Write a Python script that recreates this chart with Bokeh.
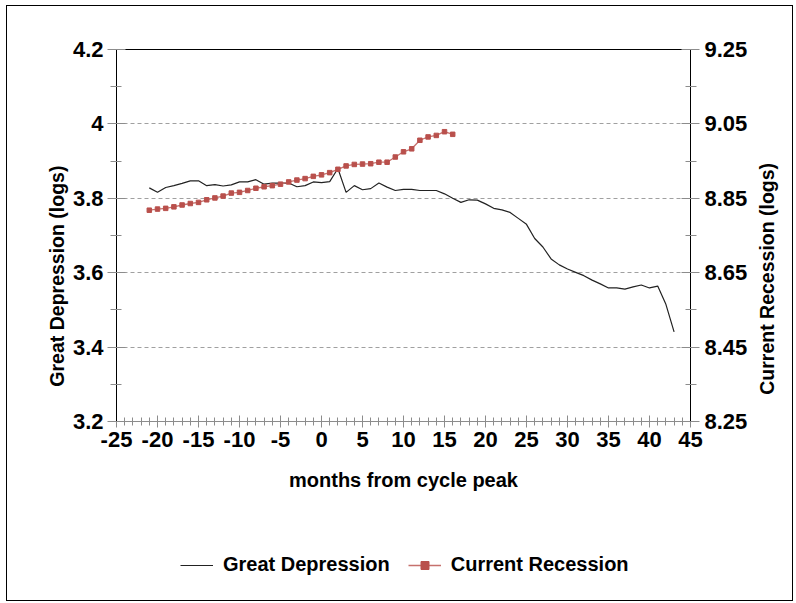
from bokeh.plotting import figure
from bokeh.layouts import column, row
from bokeh.models import (Range1d, LinearAxis, FixedTicker, Legend, LegendItem)
from bokeh.embed import file_html
from bokeh.resources import INLINE

# ---- data ----
gd_months = list(range(-21, 44))
gd_values = [3.828, 3.816, 3.829, 3.834, 3.840, 3.847, 3.847, 3.834, 3.837, 3.833,
             3.836, 3.844, 3.844, 3.850, 3.838, 3.841, 3.841, 3.841, 3.831, 3.834,
             3.844, 3.842, 3.845, 3.880, 3.816, 3.834, 3.823, 3.826, 3.841, 3.830,
             3.821, 3.824, 3.824, 3.821, 3.821, 3.821, 3.812, 3.800, 3.789, 3.796,
             3.795, 3.785, 3.773, 3.769, 3.762, 3.746, 3.730, 3.692, 3.669, 3.637,
             3.621, 3.610, 3.601, 3.592, 3.580, 3.570, 3.559, 3.559, 3.556, 3.562,
             3.567, 3.559, 3.564, 3.515, 3.441]
cr_months = list(range(-21, 17))
cr_values = [8.818, 8.821, 8.823, 8.827, 8.832, 8.836, 8.839, 8.846, 8.851, 8.856,
             8.864, 8.866, 8.871, 8.877, 8.881, 8.884, 8.888, 8.894, 8.899, 8.903,
             8.909, 8.913, 8.919, 8.928, 8.937, 8.941, 8.942, 8.943, 8.947, 8.947,
             8.961, 8.975, 8.983, 9.006, 9.015, 9.019, 9.029, 9.022]

x_ticks = list(range(-25, 46, 5))
x_minor = list(range(-25, 46, 1))
x_labels = ["-25", "-20", "-15", "-10", "-5", "0", "5", "10", "15", "20", "25", "30", "35", "40", "45"]
left_ticks = [3.2, 3.4, 3.6, 3.8, 4.0, 4.2]
left_labels = ["3.2", "3.4", "3.6", "3.8", "4", "4.2"]
left_minor = [3.3, 3.5, 3.7, 3.9, 4.1]
right_ticks = [8.25, 8.45, 8.65, 8.85, 9.05, 9.25]
right_labels = ["8.25", "8.45", "8.65", "8.85", "9.05", "9.25"]
right_minor = [8.35, 8.55, 8.75, 8.95, 9.15]
grid_ticks = [3.4, 3.6, 3.8, 4.0]

NB = "\u00a0"
left_title = "Great Depression (logs)" + NB * 15
right_title = "Current Recession (logs)" + NB * 16
x_title = "months from cycle peak"

FONT = "Liberation Sans"
RED = "#B9504C"
RED_LINE = "#C6716D"
GD_COLOR = "#222222"
TICK_GRAY = "#8c8c8c"

p = figure(width=745, height=510, x_range=Range1d(-25, 45), y_range=Range1d(3.2, 4.2),
           output_backend="svg", toolbar_location=None,
           min_border_left=109, min_border_right=62, min_border_top=43, min_border_bottom=95,
           x_axis_label=x_title, y_axis_label=left_title)
p.outline_line_color = None
p.background_fill_color = "white"
p.border_fill_color = "white"

p.extra_y_ranges = {"right": Range1d(8.25, 9.25)}

def style_axis(ax, label_size):
    ax.major_label_text_font = FONT
    ax.major_label_text_font_style = "bold"
    ax.major_label_text_font_size = "22px"
    ax.major_label_text_color = "black"
    ax.axis_label_text_font = FONT
    ax.axis_label_text_font_style = "bold"
    ax.axis_label_text_font_size = label_size
    ax.axis_label_text_color = "black"
    ax.major_tick_line_color = TICK_GRAY
    ax.minor_tick_line_color = TICK_GRAY

xa = p.xaxis[0]
xa.ticker = FixedTicker(ticks=x_ticks, minor_ticks=x_minor)
xa.major_label_overrides = dict(zip(x_ticks, x_labels))
style_axis(xa, "20px")
xa.axis_line_color = TICK_GRAY
xa.major_tick_in = 6
xa.major_tick_out = 6
xa.minor_tick_in = 4
xa.minor_tick_out = 4
xa.major_label_standoff = 4
xa.axis_label_standoff = 19

ya = p.yaxis[0]
ya.ticker = FixedTicker(ticks=left_ticks, minor_ticks=left_minor)
ya.major_label_overrides = dict(zip(left_ticks, left_labels))
style_axis(ya, "19.5px")
ya.axis_line_color = "black"
ya.major_tick_in = 9
ya.major_tick_out = 9
ya.minor_tick_in = 5
ya.minor_tick_out = 6
ya.major_label_standoff = 4
ya.axis_label_standoff = 2

ra = LinearAxis(y_range_name="right",
                ticker=FixedTicker(ticks=right_ticks, minor_ticks=right_minor))
ra.major_label_overrides = dict(zip(right_ticks, right_labels))
style_axis(ra, "19.5px")
ra.axis_line_color = "black"
ra.major_tick_in = 9
ra.major_tick_out = 9
ra.minor_tick_in = 5
ra.minor_tick_out = 6
ra.major_label_standoff = 5
p.add_layout(ra, "right")

ta = LinearAxis(ticker=FixedTicker(ticks=[]), major_label_text_font_size="0px")
ta.axis_line_color = "black"
ta.major_tick_line_color = None
ta.minor_tick_line_color = None
p.add_layout(ta, "above")

p.xgrid.visible = False
p.ygrid.ticker = FixedTicker(ticks=grid_ticks)
p.ygrid.grid_line_color = "#a0a0a0"
p.ygrid.grid_line_dash = "4 3"

p.line(gd_months, gd_values, line_color=GD_COLOR, line_width=1.2)
p.line(cr_months, cr_values, line_color=RED_LINE, line_width=1.3, y_range_name="right")
p.scatter(cr_months, cr_values, marker="square", size=4.5, fill_color=RED,
          line_color=RED, y_range_name="right")

# ---- right-hand axis title strip (reads bottom to top, like the reference) ----
r = figure(width=40, height=510, x_range=Range1d(0, 1), y_range=Range1d(0, 1),
           output_backend="svg", toolbar_location=None, x_axis_type=None,
           min_border_left=21, min_border_right=0, min_border_top=43, min_border_bottom=95,
           y_axis_label=right_title)
r.outline_line_color = None
r.grid.visible = False
r.border_fill_color = "white"
r.background_fill_color = "white"
rya = r.yaxis[0]
rya.ticker = FixedTicker(ticks=[])
rya.axis_line_color = None
rya.major_tick_line_color = None
rya.minor_tick_line_color = None
rya.major_label_text_font_size = "0px"
rya.axis_label_text_font = FONT
rya.axis_label_text_font_style = "bold"
rya.axis_label_text_font_size = "19.5px"
rya.axis_label_text_color = "black"
rya.axis_label_standoff = 0

# ---- legend strip (series drawn outside its visible range, only legend shows) ----
q = figure(width=785, height=84, x_range=Range1d(100, 101), y_range=Range1d(100, 101),
           output_backend="svg", toolbar_location=None, x_axis_type=None, y_axis_type=None,
           min_border_left=109, min_border_right=101, min_border_top=0, min_border_bottom=0)
q.outline_line_color = None
q.grid.visible = False
q.background_fill_color = "white"
q.border_fill_color = "white"
l_gd = q.line(gd_months, gd_values, line_color=GD_COLOR, line_width=1.2)
l_cr = q.line(cr_months, cr_values, line_color=RED_LINE, line_width=1.3)
l_crm = q.scatter(cr_months, cr_values, marker="square", size=4.5, fill_color=RED, line_color=RED)

legend = Legend(items=[LegendItem(label="Great Depression", renderers=[l_gd]),
                       LegendItem(label="Current Recession", renderers=[l_cr, l_crm])],
                orientation="horizontal", location=(64, 24),
                label_text_font=FONT, label_text_font_style="bold",
                label_text_font_size="20px", label_text_color="black",
                glyph_width=33, glyph_height=20, label_standoff=10, spacing=18,
                padding=0, margin=0, border_line_color=None, background_fill_alpha=0)
q.add_layout(legend, "center")

layout = column(row(p, r, spacing=0), q, spacing=0,
                styles={"border": "1px solid black", "margin-left": "6px", "margin-top": "5px"})

open("out.html", "w").write(file_html(layout, INLINE))
